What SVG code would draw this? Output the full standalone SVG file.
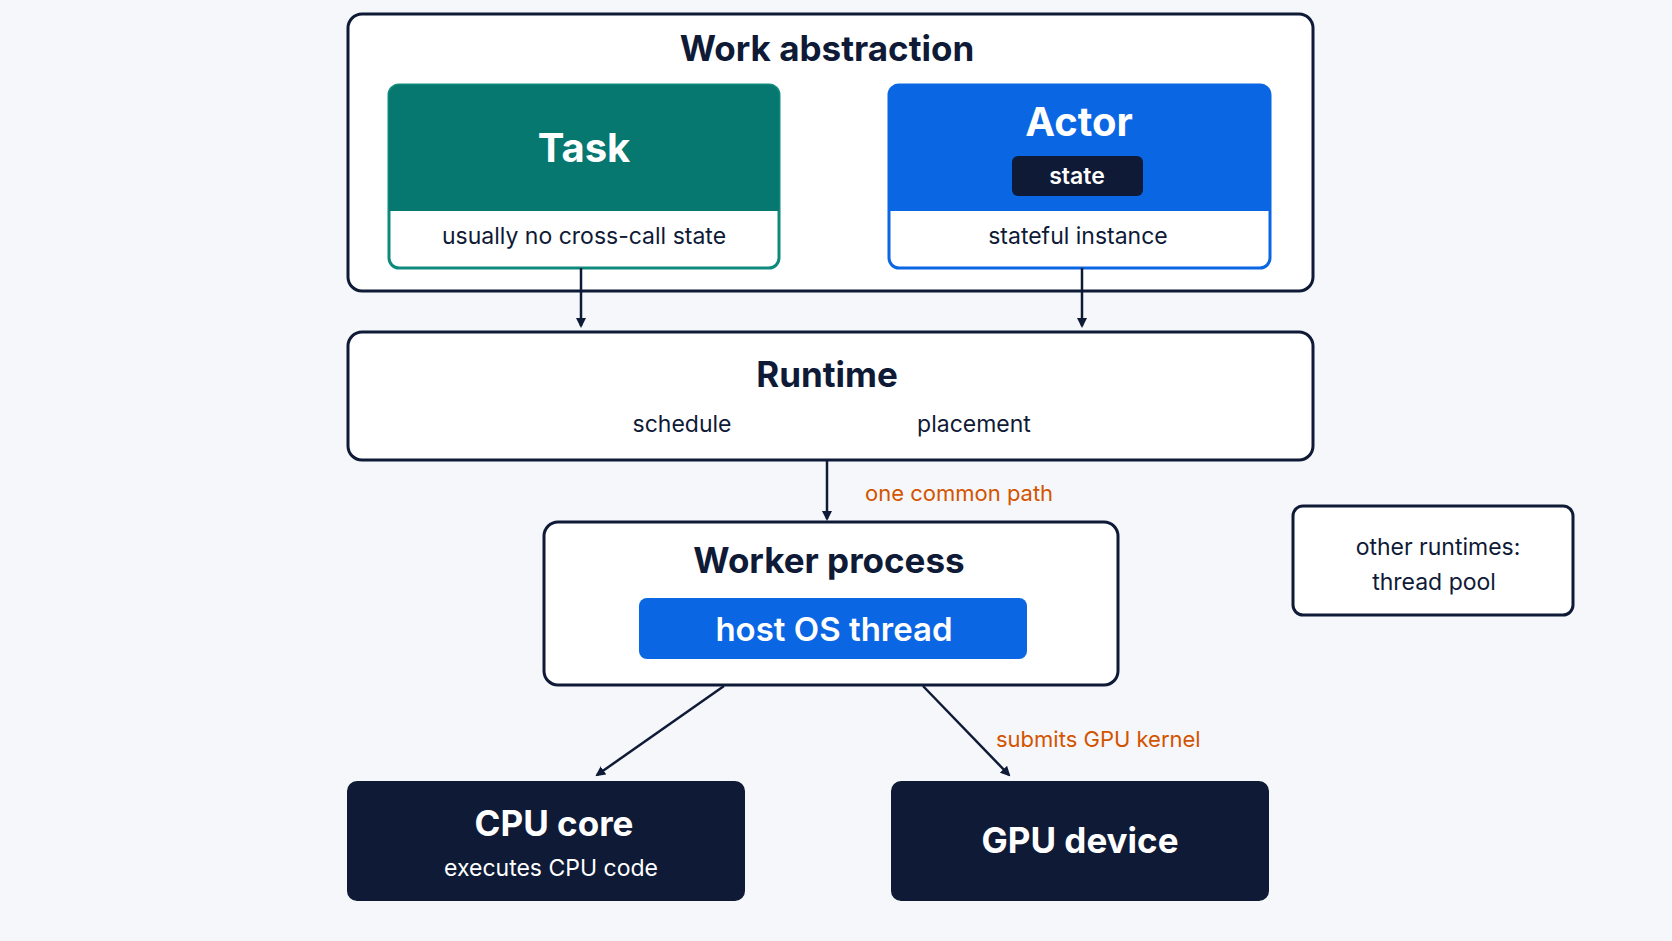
<svg xmlns="http://www.w3.org/2000/svg" width="1672" height="941" viewBox="0 0 1672 941">
<defs>
<marker id="ah" markerWidth="10" markerHeight="10" refX="8" refY="5" orient="auto" markerUnits="userSpaceOnUse" viewBox="0 0 10 10"><path d="M0,0 L10,5 L0,10 z" fill="#0f1a36"/></marker>
<style>
text{font-family:Inter,"Open Sans","Liberation Sans",sans-serif;text-anchor:middle;fill:#0f1a36}
.box{fill:#fff;stroke:#0f1a36;stroke-width:3}
.t{font-size:35px;font-weight:700}
.s{font-size:23px}
.w{fill:#fff}
.o{fill:#d35400;font-size:22px;text-anchor:start}
.c{stroke:#0f1a36;stroke-width:2.5;fill:none;marker-end:url(#ah)}
</style>
</defs>
<rect width="1672" height="941" fill="#f5f7fa"/>
<g id="work"><rect class="box" x="348" y="14" width="965" height="277" rx="14"/><text class="t" x="827" y="61">Work abstraction</text></g>
<g id="task"><rect x="389" y="85" width="390" height="183" rx="10" fill="#fff" stroke="#0e8a7d" stroke-width="3"/><path d="M399,85 h370 a10,10 0 0 1 10,10 v116 h-390 v-116 a10,10 0 0 1 10,-10z" fill="#06786f"/><text class="t w" x="584" y="162" style="font-size:40px">Task</text><text class="s" x="584" y="244">usually no cross-call state</text></g>
<g id="actor"><rect x="889" y="85" width="381" height="183" rx="10" fill="#fff" stroke="#0b66e4" stroke-width="3"/><path d="M899,85 h361 a10,10 0 0 1 10,10 v116 h-381 v-116 a10,10 0 0 1 10,-10z" fill="#0b66e4"/><text class="t w" x="1079" y="136" style="font-size:40px">Actor</text><rect x="1012" y="156" width="131" height="40" rx="6" fill="#0f1a36"/><text class="s w" x="1077" y="184" style="font-weight:600">state</text><text class="s" x="1078" y="244">stateful instance</text></g>
<g id="runtime"><rect class="box" x="348" y="332" width="965" height="128" rx="14"/><text class="t" x="827" y="387">Runtime</text><text class="s" x="682" y="432">schedule</text><text class="s" x="974" y="432">placement</text></g>
<g id="worker"><rect class="box" x="544" y="522" width="574" height="163" rx="14"/><text class="t" x="829" y="573">Worker process</text><rect x="639" y="598" width="388" height="61" rx="8" fill="#0b66e4"/><text class="t w" x="834" y="641" style="font-size:33px;font-weight:600">host OS thread</text></g>
<g id="other"><rect class="box" x="1293" y="506" width="280" height="109" rx="10"/><text class="s" x="1438" y="555">other runtimes:</text><text class="s" x="1434" y="590">thread pool</text></g>
<g id="cpu"><rect x="347" y="781" width="398" height="120" rx="10" fill="#0f1a36"/><text class="t w" x="554" y="836">CPU core</text><text class="s w" x="551" y="876">executes CPU code</text></g>
<g id="gpu"><rect x="891" y="781" width="378" height="120" rx="10" fill="#0f1a36"/><text class="t w" x="1080" y="853">GPU device</text></g>
<g id="connectors">
<line class="c" x1="581" y1="268" x2="581" y2="326"/>
<line class="c" x1="1082" y1="268" x2="1082" y2="326"/>
<line class="c" x1="827" y1="460" x2="827" y2="519"/>
<line class="c" x1="724" y1="686" x2="597" y2="775"/>
<line class="c" x1="923" y1="686" x2="1009" y2="775"/>
<text class="o" x="865" y="501">one common path</text>
<text class="o" x="996" y="747">submits GPU kernel</text>
</g>
</svg>
